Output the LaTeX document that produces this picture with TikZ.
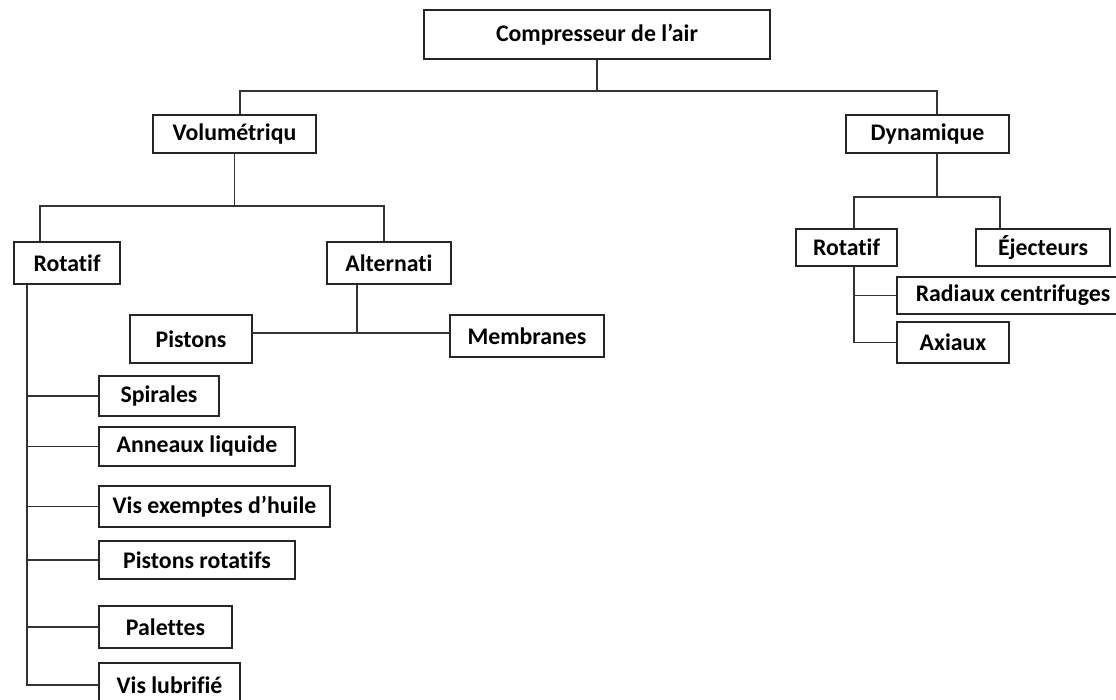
\documentclass[tikz,border=0pt]{standalone}
\usepackage{fontspec}
\setmainfont{Carlito}[Ligatures=NoCommon]
\begin{document}
\begin{tikzpicture}[x=1pt,y=-1pt,
  box/.style={draw=black!85, line width=1.6pt, inner sep=0pt, font=\fontsize{23.8}{27}\selectfont\bfseries, text=black},
  conn/.style={draw=black!80, line width=1.6pt}]
\useasboundingbox[fill=white] (0,0) rectangle (1116,700);
% nodes
\node[box, minimum width=346, minimum height=49] (top) at (597,34.5) {Compresseur de l’air};
\node[box, minimum width=163, minimum height=38] (vol) at (234.5,134) {Volumétriqu};
\node[box, minimum width=163, minimum height=38] (dyn) at (927.5,134) {Dynamique};
\node[box, minimum width=106, minimum height=42] (rotL) at (67,263) {Rotatif};
\node[box, minimum width=124, minimum height=42] (alt) at (389,263) {Alternati};
\node[box, minimum width=122, minimum height=48] (pis) at (191,339) {Pistons};
\node[box, minimum width=154, minimum height=42] (mem) at (527,336) {Membranes};
\node[box, minimum width=120, minimum height=40] (sp) at (159,396) {Spirales};
\node[box, minimum width=196, minimum height=39] (an) at (197,446.5) {Anneaux liquide};
\node[box, minimum width=231, minimum height=41] (ve) at (214.5,506.5) {Vis exemptes d’huile};
\node[box, minimum width=196, minimum height=38] (pr) at (197,560) {Pistons rotatifs};
\node[box, minimum width=133, minimum height=42] (pa) at (165.5,627) {Palettes};
\node[box, minimum width=141, minimum height=44] (vl) at (169.5,685) {Vis lubrifié};
\node[box, minimum width=101, minimum height=37] (rotR) at (846.5,247.5) {Rotatif};
\node[box, minimum width=134, minimum height=37] (ej) at (1043,247.5) {Éjecteurs};
\node[box, minimum width=232, minimum height=37] (rad) at (1013,295.5) {Radiaux centrifuges};
\node[box, minimum width=112, minimum height=41] (ax) at (953,342.5) {Axiaux};
% junction coordinates
\coordinate (vL) at (240,91);
\coordinate (vR) at (937,91);
\coordinate (a1) at (40,206);
\coordinate (a2) at (384,206);
\coordinate (a3) at (357,333);
\coordinate (s) at (27,0);
\coordinate (d1) at (854,197);
\coordinate (d2) at (1000,197);
% connectors
\draw[conn] (top.south) -- (top.south |- vL);
\draw[conn] (vol.north -| vL) -- (vL) -- (vR) -- (dyn.north -| vR);
\draw[conn] (vol.south) -- (vol.south |- a1);
\draw[conn] (rotL.north -| a1) -- (a1) -- (a2) -- (alt.north -| a2);
\draw[conn] (alt.south -| a3) -- (a3);
\draw[conn] (pis.east |- a3) -- (mem.west |- a3);
\draw[conn] (rotL.south -| s) -- (vl.west -| s) -- (vl.west);
\draw[conn] (sp.west -| s) -- (sp.west);
\draw[conn] (an.west -| s) -- (an.west);
\draw[conn] (ve.west -| s) -- (ve.west);
\draw[conn] (pr.west -| s) -- (pr.west);
\draw[conn] (pa.west -| s) -- (pa.west);
\draw[conn] (dyn.south -| vR) -- (vR |- d1);
\draw[conn] (rotR.north -| d1) -- (d1) -- (d2) -- (ej.north -| d2);
\draw[conn] (rotR.south -| d1) -- (ax.west -| d1) -- (ax.west);
\draw[conn] (rad.west -| d1) -- (rad.west);
\end{tikzpicture}
\end{document}
